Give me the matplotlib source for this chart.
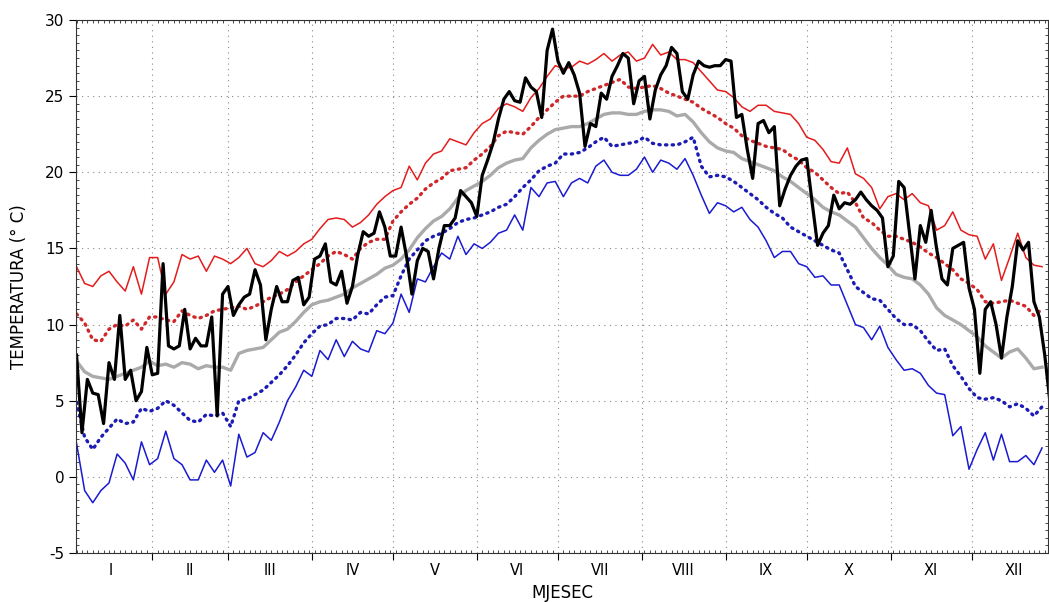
import numpy as np
import matplotlib.pyplot as plt
from matplotlib.ticker import MultipleLocator
from matplotlib.transforms import blended_transform_factory

plt.rcParams['axes.unicode_minus'] = False

# dani u godini (svaki treci dan) za klimatoloske krivulje
dani = np.arange(4, 362, 3)
# dani (svaki drugi) za tekucu godinu
dani_god = np.arange(4, 365, 2)

tmax_gornja = [
    13.8, 12.7, 12.5, 13.2, 13.5, 12.8, 12.2, 13.8, 12.0, 14.4,
    14.4, 12.0, 12.8, 14.6, 14.3, 14.5, 13.5, 14.5, 14.3, 14.0,
    14.4, 15.0, 14.0, 13.8, 14.2, 14.8, 14.5, 14.8, 15.3, 15.6,
    16.3, 16.9, 17.0, 16.9, 16.4, 16.7, 17.2, 17.9, 18.4, 18.8,
    19.0, 20.4, 19.5, 20.6, 21.2, 21.4, 22.2, 22.0, 21.8, 22.6,
    23.2, 23.5, 24.2, 24.5, 24.3, 24.0, 24.9, 25.5, 26.3, 27.0,
    26.8, 26.9, 27.3, 27.1, 27.4, 27.8, 27.3, 27.7, 27.9, 27.3,
    27.5, 28.4, 27.7, 27.9, 27.4, 27.4, 27.2, 26.6, 26.0, 25.4,
    25.3, 24.9, 24.3, 24.0, 24.4, 24.4, 24.0, 23.9, 23.8, 23.2,
    22.3, 22.1, 21.5, 20.7, 20.6, 21.6, 19.9, 19.6, 19.0, 17.6,
    18.4, 18.6, 18.2, 18.6, 18.0, 17.8, 16.2, 16.5, 17.4, 16.2,
    15.9, 15.8, 14.3, 15.3, 12.9, 14.4, 16.0, 14.4, 13.9, 13.8,
]

tmax_sred = [
    10.7, 10.1, 9.0, 8.9, 9.7, 10.0, 9.9, 10.3, 9.7, 10.5,
    10.5, 10.3, 10.2, 10.9, 10.6, 10.4, 10.6, 10.9, 11.0, 11.1,
    11.2, 11.0, 11.2, 11.5, 11.8, 12.0, 12.3, 12.8, 13.2, 13.6,
    14.0, 14.5, 14.8, 14.6, 14.3, 15.0, 15.4, 15.6, 15.6, 16.8,
    17.4, 17.9, 18.3, 18.9, 19.3, 19.6, 20.1, 20.2, 20.3, 20.8,
    21.2, 21.7, 22.4, 22.7, 22.6, 22.5, 23.0, 23.6, 24.1, 24.6,
    25.0, 25.0, 25.0, 25.3, 25.5, 25.7, 25.9, 26.1, 25.6, 25.5,
    25.6, 25.7, 25.5, 25.2, 25.0, 24.8, 24.6, 24.2, 23.9, 23.6,
    23.2, 22.9, 22.4, 22.1, 21.9, 21.7, 21.6, 21.5, 21.1, 20.8,
    20.3, 20.0, 19.5, 19.0, 18.6, 18.7, 18.0, 17.0, 16.7, 16.2,
    15.8, 15.8, 15.6, 15.4, 15.1, 14.7, 14.4, 14.0, 13.6, 13.0,
    12.7, 12.3, 11.5, 11.4, 11.5, 11.6, 11.4, 11.2, 10.6, 11.0,
]

tsred = [
    7.6, 6.9, 6.6, 6.5, 6.4, 6.6, 6.8, 7.0, 7.2, 7.6,
    7.3, 7.4, 7.2, 7.5, 7.4, 7.1, 7.3, 7.2, 7.2, 7.0,
    8.1, 8.3, 8.4, 8.5, 9.0, 9.5, 9.7, 10.2, 10.8, 11.3,
    11.5, 11.6, 11.8, 12.0, 12.4, 12.7, 13.0, 13.3, 13.7, 13.9,
    14.3, 14.9, 15.7, 16.3, 16.8, 17.1, 17.6, 18.3, 18.8, 19.1,
    19.4, 19.8, 20.3, 20.6, 20.8, 20.9, 21.6, 22.1, 22.5, 22.8,
    22.9, 23.0, 23.0, 23.2, 23.5, 23.8, 23.9, 23.9, 23.8, 23.8,
    24.0, 24.1, 24.1, 24.0, 23.7, 23.8, 23.3, 22.6, 22.0, 21.6,
    21.4, 21.3, 20.9, 20.7, 20.5, 20.3, 20.1, 19.7, 19.4, 19.0,
    18.6, 18.2, 17.7, 17.4, 17.2, 16.8, 16.4, 15.7, 15.0, 14.4,
    13.9, 13.3, 13.1, 13.0, 12.6, 12.0, 11.1, 10.6, 10.3, 10.0,
    9.6, 9.2, 8.6, 8.2, 7.8, 8.2, 8.4, 7.8, 7.1, 7.2,
]

tmin_sred = [
    4.9, 2.6, 1.8, 2.6, 3.2, 3.8, 3.5, 3.6, 4.5, 4.3,
    4.5, 5.0, 4.7, 4.2, 3.7, 3.6, 4.1, 4.0, 4.2, 3.3,
    5.0, 5.1, 5.4, 5.7, 6.2, 6.7, 7.3, 8.0, 8.8, 9.4,
    9.9, 10.0, 10.4, 10.4, 10.3, 10.8, 10.7, 11.3, 11.8, 11.9,
    13.2, 14.3, 14.9, 15.5, 15.8, 16.0, 16.3, 16.7, 16.9, 17.0,
    17.2, 17.4, 17.7, 17.9, 18.4, 19.0, 19.5, 20.1, 20.4, 20.6,
    21.2, 21.2, 21.3, 21.6, 22.0, 22.3, 21.7, 21.8, 21.9, 22.0,
    22.3, 21.9, 21.8, 21.8, 21.8, 22.0, 22.3, 20.4, 19.7, 19.8,
    19.7, 19.4, 19.0, 18.6, 18.2, 17.7, 17.3, 17.0, 16.4, 16.1,
    15.8, 15.5, 15.2, 14.9, 14.7, 13.6, 12.5, 12.1, 11.7, 11.6,
    11.0, 10.4, 10.0, 10.0, 9.6, 8.9, 8.3, 8.4, 7.3, 6.6,
    5.8, 5.2, 5.1, 5.2, 5.0, 4.6, 4.8, 4.5, 4.0, 4.6,
]

tmin_donja = [
    2.2, -0.9, -1.7, -0.9, -0.4, 1.5, 0.9, -0.2, 2.3, 0.8,
    1.2, 3.0, 1.2, 0.8, -0.2, -0.2, 1.1, 0.3, 1.1, -0.6,
    2.8, 1.3, 1.6, 2.9, 2.4, 3.6, 5.0, 5.9, 7.0, 6.6,
    8.3, 7.7, 9.0, 7.9, 8.9, 8.4, 8.2, 9.6, 9.4, 10.1,
    12.0, 10.8, 13.0, 12.8, 13.8, 14.7, 14.3, 15.8, 14.6, 15.3,
    15.0, 15.4, 16.0, 16.2, 17.2, 16.2, 19.0, 18.4, 19.3, 19.4,
    18.4, 19.3, 19.6, 19.3, 20.4, 20.8, 20.0, 19.8, 19.8, 20.2,
    21.0, 20.0, 20.8, 20.6, 20.2, 20.9, 19.8, 18.5, 17.3, 18.0,
    17.8, 17.4, 17.7, 16.9, 16.4, 15.5, 14.4, 14.8, 14.8, 14.0,
    13.8, 13.1, 13.2, 12.6, 12.6, 11.3, 10.0, 9.8, 9.0, 9.9,
    8.5, 7.7, 7.0, 7.1, 6.8, 6.0, 5.5, 5.4, 2.7, 3.3,
    0.5, 1.8, 2.9, 1.1, 2.8, 1.0, 1.0, 1.4, 0.8, 1.9,
]

t_godina = [
    8.0, 2.9, 6.4, 5.5, 5.4, 3.5, 7.5, 6.4, 10.6, 6.4,
    7.0, 5.0, 5.6, 8.5, 6.7, 6.8, 14.0, 8.6, 8.4, 8.6,
    11.0, 8.4, 9.1, 8.6, 8.6, 10.5, 4.0, 12.0, 12.5, 10.6,
    11.3, 11.8, 12.0, 13.6, 12.6, 9.0, 11.0, 12.5, 11.5, 11.5,
    12.9, 13.1, 11.3, 11.8, 14.3, 14.5, 15.3, 12.8, 12.6, 13.5,
    11.4, 12.5, 14.6, 16.1, 15.8, 16.0, 17.4, 16.4, 14.5, 14.5,
    16.4, 14.5, 12.0, 14.2, 15.0, 14.8, 13.0, 15.0, 16.5, 16.5,
    17.0, 18.8, 18.4, 18.0, 17.1, 19.8, 20.8, 21.9, 23.5, 24.8,
    25.3, 24.7, 24.6, 26.2, 25.6, 25.3, 23.6, 28.0, 29.4, 27.3,
    26.5, 27.2, 26.4, 25.2, 21.7, 23.2, 23.0, 25.2, 24.8, 26.3,
    27.0, 27.8, 27.5, 24.5, 26.0, 26.3, 23.5, 25.4, 26.4, 27.0,
    28.2, 27.8, 25.3, 24.8, 26.4, 27.3, 27.0, 26.9, 27.0, 27.0,
    27.4, 27.3, 23.6, 23.8, 21.5, 19.6, 23.2, 23.4, 22.6, 23.0,
    17.8, 18.9, 19.8, 20.4, 20.8, 20.9, 18.0, 15.2, 16.0, 16.5,
    18.5, 17.6, 18.0, 17.9, 18.2, 18.7, 18.2, 17.8, 17.5, 17.0,
    13.8, 14.5, 19.4, 19.0, 16.0, 13.0, 16.5, 15.4, 17.5, 15.0,
    13.0, 12.6, 15.0, 15.2, 15.4, 12.4, 11.0, 6.8, 11.0, 11.5,
    10.0, 7.8, 10.5, 12.5, 15.5, 14.9, 15.4, 11.5, 10.5, 8.0,
    4.8,
]

mjeseci = ['I', 'II', 'III', 'IV', 'V', 'VI', 'VII', 'VIII', 'IX', 'X', 'XI', 'XII']
pocetak_mj = [1, 32, 60, 91, 121, 152, 182, 213, 244, 274, 305, 335, 366]

fig = plt.figure(figsize=(10.49, 6.02), dpi=100)
ax = fig.add_axes([76 / 1049, 49 / 602, 972 / 1049, 533 / 602])

ax.plot(dani, tmax_gornja, color='#e41c1c', lw=1.1)
ax.plot(dani, tmax_sred, color='#d0282a', lw=2.4, ls=(0, (0.4, 1.6)),
        dash_capstyle='round')
ax.plot(dani, tsred, color='#aaaaaa', lw=2.4)
ax.plot(dani, tmin_sred, color='#1c1cb4', lw=2.4, ls=(0, (0.4, 1.6)),
        dash_capstyle='round')
ax.plot(dani, tmin_donja, color='#1a1ad0', lw=1.1)
ax.plot(dani_god, t_godina, color='black', lw=2.3)

ax.set_xlim(3.8, 363.2)
ax.set_ylim(-5, 30)
ax.set_yticks(np.arange(-5, 31, 5))

# granice mjeseci kao glavne oznake
ax.set_xticks(pocetak_mj[1:-1])
ax.set_xticklabels([])
ax.xaxis.set_minor_locator(MultipleLocator(2))
ax.yaxis.set_minor_locator(MultipleLocator(0.5))
ax.tick_params(axis='both', which='major', length=5, width=0.8,
               labelsize=11, direction='out')
ax.tick_params(axis='both', which='minor', length=2, width=0.5,
               direction='in', top=True, right=True)

# nazivi mjeseci na sredini svakog mjeseca
trans = blended_transform_factory(ax.transData, ax.transAxes)
for ime, a, b in zip(mjeseci, pocetak_mj[:-1], pocetak_mj[1:]):
    ax.text((a + b) / 2, -0.032, ime, transform=trans, ha='center',
            va='center', fontsize=10.5)

ax.grid(True, which='major', ls=(0, (1, 4)), color='#888888', lw=0.8)

for s in ax.spines.values():
    s.set_linewidth(0.8)
    s.set_color('#333333')

ax.set_xlabel('MJESEC', fontsize=12)
ax.xaxis.set_label_coords(0.5, -0.058)
ax.set_ylabel('TEMPERATURA (° C)', fontsize=12, labelpad=12)

fig.savefig('out.png', dpi=100)
